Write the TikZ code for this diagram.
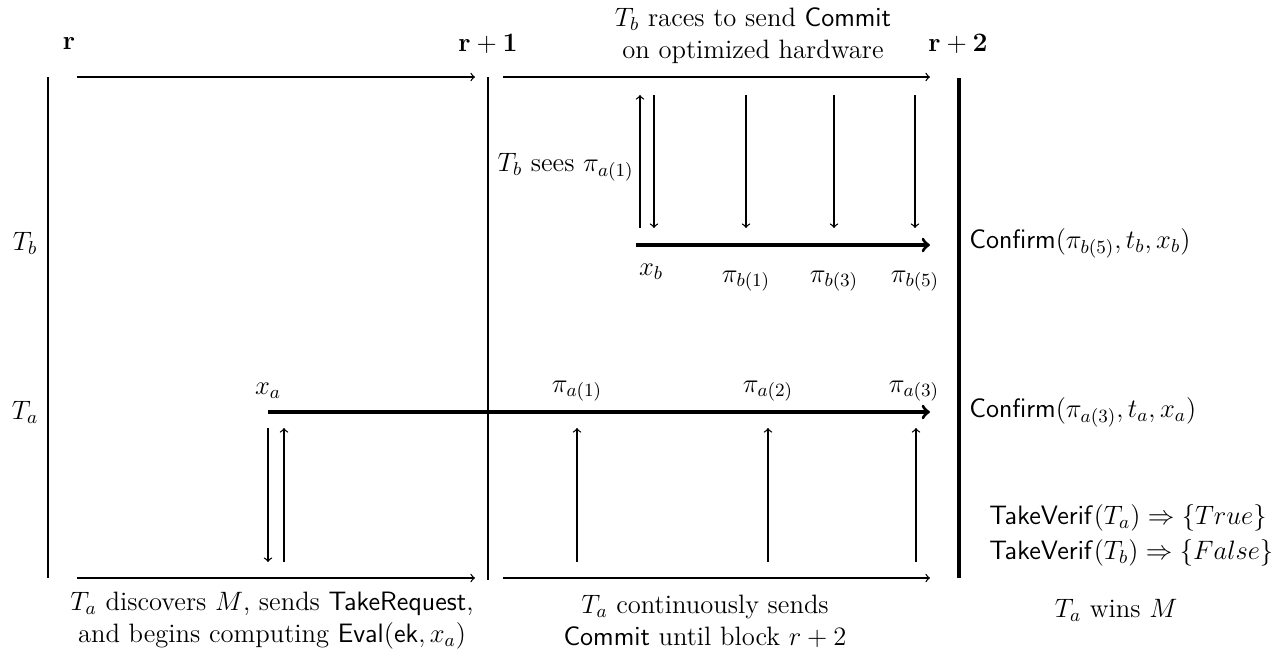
\RequirePackage{fix-cm}
\documentclass[tikz,border=0pt]{standalone}
\usepackage{amsmath}
\begin{document}
\begin{tikzpicture}[x=0.5pt,y=-0.5pt,
  font=\fontsize{13.3}{16}\selectfont,
  thinline/.style={line width=0.65pt},
  thinarr/.style={->,line width=0.65pt},
  thickarr/.style={->,line width=1.6pt},
  heavy/.style={line width=2.4pt},
  lbl/.style={inner sep=0pt}]
\useasboundingbox (0,0) rectangle (1282,661);
% frame lines
\coordinate (L1) at (48,77); \coordinate (L2) at (48,578);
\coordinate (M1) at (488,77); \coordinate (M2) at (488,580);
\coordinate (R1) at (959,78); \coordinate (R2) at (959,578);
\draw[thinline] (L1) -- (L2);
\draw[thinline] (M1) -- (M2);
\draw[heavy] (R1) -- (R2);
% round labels
\node[lbl] (r0) at (69,44) {$\mathbf{r}$};
\node[lbl] (r1) at (488,44) {$\mathbf{r+1}$};
\node[lbl] (r2) at (958,44) {$\mathbf{r+2}$};
% top and bottom arrows
\coordinate (TA1) at (77,77); \coordinate (TA2) at (475,77);
\coordinate (TB1) at (503,77); \coordinate (TB2) at (930,77);
\coordinate (BA1) at (77,578); \coordinate (BA2) at (475,578);
\coordinate (BB1) at (503,578); \coordinate (BB2) at (930,578);
\draw[thinarr] (TA1) -- (TA2);
\draw[thinarr] (TB1) -- (TB2);
\draw[thinarr] (BA1) -- (BA2);
\draw[thinarr] (BB1) -- (BB2);
% top caption
\node[lbl,align=center] (top) at (753,36) {$T_b$ races to send $\mathsf{Commit}$\\ on optimized hardware};
% party labels
\node[lbl] (Tb) at (25,243) {$T_b$};
\node[lbl] (Ta) at (25,412) {$T_a$};
% T_b timeline
\coordinate (Tb1) at (636,245); \coordinate (Tb2) at (930,245);
\draw[thickarr] (Tb1) -- (Tb2);
\coordinate (ub1) at (640,228); \coordinate (ub2) at (640,95);
\draw[thinarr] (ub1) -- (ub2);
\coordinate (d0a) at (654,95); \coordinate (d0b) at (654,228);
\coordinate (d1a) at (746,95); \coordinate (d1b) at (746,228);
\coordinate (d3a) at (834,95); \coordinate (d3b) at (834,228);
\coordinate (d5a) at (915,95); \coordinate (d5b) at (915,228);
\draw[thinarr] (d0a) -- (d0b);
\draw[thinarr] (d1a) -- (d1b);
\draw[thinarr] (d3a) -- (d3b);
\draw[thinarr] (d5a) -- (d5b);
\node[lbl,anchor=east] (sees) at (634,167) {$T_b$ sees $\pi_{a(1)}$};
\node[lbl] (xb) at (651,272) {$x_b$};
\node[lbl] (pb1) at (746,281) {$\pi_{b(1)}$};
\node[lbl] (pb3) at (834,281) {$\pi_{b(3)}$};
\node[lbl] (pb5) at (915,281) {$\pi_{b(5)}$};
\node[lbl,anchor=west] (cb) at (969,243) {$\mathsf{Confirm}(\pi_{b(5)},t_b,x_b)$};
% T_a timeline
\coordinate (Ta1) at (268,412); \coordinate (Ta2) at (930,412);
\draw[thickarr] (Ta1) -- (Ta2);
\node[lbl] (xa) at (268,391) {$x_a$};
\node[lbl] (pa1) at (577,391) {$\pi_{a(1)}$};
\node[lbl] (pa2) at (768,391) {$\pi_{a(2)}$};
\node[lbl] (pa3) at (914,391) {$\pi_{a(3)}$};
\coordinate (da1) at (268,428); \coordinate (da2) at (268,562);
\draw[thinarr] (da1) -- (da2);
\coordinate (ua1) at (284,562); \coordinate (ua2) at (284,428);
\draw[thinarr] (ua1) -- (ua2);
\coordinate (u1a) at (577,562); \coordinate (u1b) at (577,428);
\coordinate (u2a) at (768,562); \coordinate (u2b) at (768,428);
\coordinate (u3a) at (916,562); \coordinate (u3b) at (916,428);
\draw[thinarr] (u1a) -- (u1b);
\draw[thinarr] (u2a) -- (u2b);
\draw[thinarr] (u3a) -- (u3b);
\node[lbl,anchor=west] (ca) at (969,412) {$\mathsf{Confirm}(\pi_{a(3)},t_a,x_a)$};
% verification
\node[lbl,anchor=west] (tv1) at (989,518) {$\mathsf{TakeVerif}(T_a)\Rightarrow\{True\}$};
\node[lbl,anchor=west] (tv2) at (989,553) {$\mathsf{TakeVerif}(T_b)\Rightarrow\{False\}$};
\node[lbl] (win) at (1116,610) {$T_a$ wins $M$};
% bottom captions
\node[lbl,align=center] (capa) at (272,621) {$T_a$ discovers $M$, sends $\mathsf{TakeRequest}$,\\ and begins computing $\mathsf{Eval}(\mathsf{ek},x_a)$};
\node[lbl,align=center] (capb) at (705,621) {$T_a$ continuously sends\\ $\mathsf{Commit}$ until block $r+2$};
\end{tikzpicture}
\end{document}
